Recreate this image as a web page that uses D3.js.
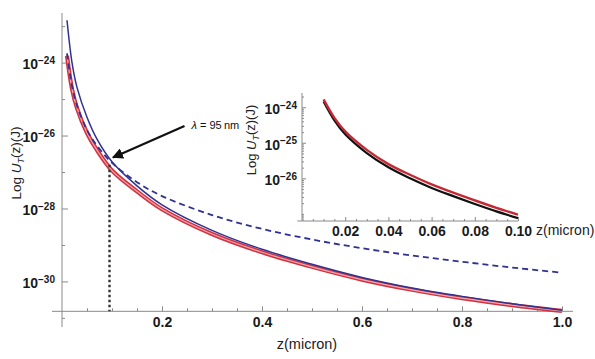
<!DOCTYPE html>
<html>
<head>
<meta charset="utf-8">
<script src="https://cdn.jsdelivr.net/npm/d3@7"></script>
<style>
  body { margin: 0; background: #fff; }
  svg { font-family: "Liberation Sans", Arial, sans-serif; }
  .tick line { stroke: #8a8a8a; }
  .tick text { fill: #1a1a1a; font-weight: bold; font-size: 14px; }
</style>
</head>
<body>
<div id="chart"></div>
<script>
// ---- data (log10 of U_T in J) ----
const zMain      = [0.01, 0.02, 0.03, 0.05, 0.07, 0.1, 0.15, 0.2, 0.3, 0.4, 0.5, 0.6, 0.7, 0.8, 0.9, 1.0];
const redLog     = [-23.81, -24.72, -25.25, -25.93, -26.40, -26.96, -27.53, -28.02, -28.70, -29.20, -29.60, -29.95, -30.23, -30.46, -30.65, -30.81];
const blueLog    = [-22.84, -24.00, -24.68, -25.50, -26.10, -26.72, -27.38, -27.90, -28.60, -29.12, -29.53, -29.89, -30.18, -30.41, -30.61, -30.79];
const dashedLog  = [-23.75, -24.65, -25.18, -25.85, -26.28, -26.75, -27.28, -27.66, -28.18, -28.56, -28.85, -29.09, -29.29, -29.46, -29.62, -29.76];

const zInset     = [0.01, 0.015, 0.02, 0.03, 0.04, 0.05, 0.06, 0.07, 0.08, 0.09, 0.1];
const insetRed   = [-23.78, -24.30, -24.68, -25.20, -25.60, -25.90, -26.17, -26.40, -26.62, -26.83, -27.02];
const insetBlack = [-23.84, -24.37, -24.76, -25.29, -25.69, -26.00, -26.27, -26.50, -26.72, -26.93, -27.12];

const xMajor = [0.2, 0.4, 0.6, 0.8, 1.0];
const xMinor = [0.05, 0.1, 0.15, 0.25, 0.3, 0.35, 0.45, 0.5, 0.55, 0.65, 0.7, 0.75, 0.85, 0.9, 0.95];
const yMajor = [-30, -28, -26, -24];
const yMinor = [-31, -29, -27, -25, -23];

const xInsetMajor = [0.02, 0.04, 0.06, 0.08, 0.1];
const yInsetMajor = [-24, -25, -26];
const yInsetTick  = [-27];

const lambdaZ = 0.095;       // crossing point, 95 nm
const lambdaLog = -26.72;
const arrowFrom = [0.245, -25.74];
const arrowTo   = [0.102, -26.60];

// ---- layout ----
const W = 595, H = 359;

const svg = d3.select("#chart").append("svg")
    .attr("width", W)
    .attr("height", H);

svg.append("defs").append("marker")
    .attr("id", "arr")
    .attr("viewBox", "0 0 10 10")
    .attr("refX", 9).attr("refY", 5)
    .attr("markerWidth", 5).attr("markerHeight", 5)
    .attr("orient", "auto")
  .append("path")
    .attr("d", "M0,0L10,5L0,10z")
    .attr("fill", "#111");

// superscript tick labels like 10^-24
function powLabel(sel) {
  sel.each(function (d) {
    const t = d3.select(this).text(null);
    t.append("tspan").text("10");
    t.append("tspan").attr("dy", "-0.55em").style("font-size", "10px").text("\u2212" + Math.abs(d));
  });
}

function uLabel(sel) {
  sel.append("tspan").text("Log ");
  sel.append("tspan").style("font-style", "italic").text("U");
  sel.append("tspan").attr("dy", "0.3em").style("font-size", "9px").style("font-style", "italic").text("T");
  sel.append("tspan").attr("dy", "-0.3em").text("(z)(J)");
}

// ================= main plot =================
const x = d3.scaleLinear().domain([0, 1]).range([62, 562]);
const y = d3.scaleLinear().domain([-31.25, -22.64]).range([327, 13]);
const xAxisAt = -30.82;

const main = svg.append("g");

// axis lines
main.append("line")
    .attr("x1", x(-0.02)).attr("x2", x(1.022))
    .attr("y1", y(xAxisAt)).attr("y2", y(xAxisAt))
    .attr("stroke", "#8a8a8a");
main.append("line")
    .attr("x1", x(0)).attr("x2", x(0))
    .attr("y1", y.range()[0]).attr("y2", y.range()[1])
    .attr("stroke", "#8a8a8a");

const gx = main.append("g")
    .attr("transform", "translate(0," + y(xAxisAt) + ")")
    .call(d3.axisBottom(x).tickValues(xMajor).tickSizeInner(-5).tickSizeOuter(0).tickPadding(6).tickFormat(d3.format(".1f")));
gx.select(".domain").remove();

const gxm = main.append("g")
    .attr("transform", "translate(0," + y(xAxisAt) + ")")
    .call(d3.axisBottom(x).tickValues(xMinor).tickSizeInner(-3).tickSizeOuter(0).tickFormat(""));
gxm.select(".domain").remove();

const gy = main.append("g")
    .attr("transform", "translate(" + x(0) + ",0)")
    .call(d3.axisLeft(y).tickValues(yMajor).tickSizeInner(-6).tickSizeOuter(0).tickPadding(7));
gy.select(".domain").remove();
gy.selectAll(".tick text").attr("dy", "0.45em").call(powLabel);

const gym = main.append("g")
    .attr("transform", "translate(" + x(0) + ",0)")
    .call(d3.axisLeft(y).tickValues(yMinor).tickSizeInner(-3).tickSizeOuter(0).tickFormat(""));
gym.select(".domain").remove();

// curves
const line = d3.line()
    .x((d, i) => x(zMain[i]))
    .y(d => y(d))
    .curve(d3.curveCatmullRom.alpha(0.5));

main.append("path").attr("d", line(redLog))
    .attr("fill", "none").attr("stroke", "#d2323f").attr("stroke-width", 4.2);
main.append("path").attr("d", line(redLog))
    .attr("fill", "none").attr("stroke", "#f2a6ae").attr("stroke-width", 1.2);

main.append("path").attr("d", line(dashedLog))
    .attr("fill", "none").attr("stroke", "#2f3290").attr("stroke-width", 1.8)
    .attr("stroke-dasharray", "6,4");

main.append("path").attr("d", line(blueLog))
    .attr("fill", "none").attr("stroke", "#2f3290").attr("stroke-width", 1.5);

// dotted marker at lambda
main.append("line")
    .attr("x1", x(lambdaZ)).attr("x2", x(lambdaZ))
    .attr("y1", y(lambdaLog) + 3).attr("y2", y(xAxisAt))
    .attr("stroke", "#333").attr("stroke-width", 2.4)
    .attr("stroke-dasharray", "2.5,2.5");

main.append("line")
    .attr("x1", x(arrowFrom[0])).attr("y1", y(arrowFrom[1]))
    .attr("x2", x(arrowTo[0])).attr("y2", y(arrowTo[1]))
    .attr("stroke", "#111").attr("stroke-width", 2.2)
    .attr("marker-end", "url(#arr)");

const lam = main.append("text")
    .attr("x", x(arrowFrom[0]) + 7)
    .attr("y", y(arrowFrom[1]) + 3)
    .style("font-size", "11px").attr("fill", "#111");
lam.append("tspan").style("font-style", "italic").text("\u03bb");
lam.append("tspan").text(" = 95\u2009nm");

// axis titles
main.append("text")
    .attr("x", 307).attr("y", 349)
    .attr("text-anchor", "middle")
    .style("font-size", "14.5px").attr("fill", "#222")
    .text("z(micron)");

main.append("text")
    .attr("transform", "translate(21,163) rotate(-90)")
    .attr("text-anchor", "middle")
    .style("font-size", "13.5px").attr("fill", "#222")
    .call(uLabel);

// ================= inset =================
const xi = d3.scaleLinear().domain([0, 0.1]).range([302, 518]);
const yi = d3.scaleLinear().domain([-27.2, -23.6]).range([221, 93]);

const ins = svg.append("g");

ins.append("line")
    .attr("x1", xi(-0.0022)).attr("x2", xi(0.1))
    .attr("y1", yi(-27.2)).attr("y2", yi(-27.2))
    .attr("stroke", "#8a8a8a");
ins.append("line")
    .attr("x1", xi(0)).attr("x2", xi(0))
    .attr("y1", yi(-27.2)).attr("y2", yi(-23.6))
    .attr("stroke", "#8a8a8a");

const gxi = ins.append("g")
    .attr("transform", "translate(0," + yi(-27.2) + ")")
    .call(d3.axisBottom(xi).tickValues(xInsetMajor).tickSizeInner(-4).tickSizeOuter(0).tickPadding(5).tickFormat(d3.format(".2f")));
gxi.select(".domain").remove();

const xiMinor = d3.range(1, 20).map(k => k * 0.005).filter(v => Math.round(v * 1000) % 20 !== 0);
const gxim = ins.append("g")
    .attr("transform", "translate(0," + yi(-27.2) + ")")
    .call(d3.axisBottom(xi).tickValues(xiMinor).tickSizeInner(-2).tickSizeOuter(0).tickFormat(""));
gxim.select(".domain").remove();

const gyi = ins.append("g")
    .attr("transform", "translate(" + xi(0) + ",0)")
    .call(d3.axisLeft(yi).tickValues(yInsetMajor).tickSizeInner(-4).tickSizeOuter(0).tickPadding(5));
gyi.select(".domain").remove();
gyi.selectAll(".tick text").attr("dy", "0.45em").call(powLabel);

// log minor ticks inside each decade
const yiMinor = [];
[-28, -27, -26, -25, -24].forEach(dec => {
  d3.range(2, 10).forEach(k => {
    const v = dec + Math.log10(k);
    if (v > -27.2 && v < -23.6) yiMinor.push(v);
  });
});
const gyim = ins.append("g")
    .attr("transform", "translate(" + xi(0) + ",0)")
    .call(d3.axisLeft(yi).tickValues(yiMinor.concat(yInsetTick)).tickSizeInner(-2).tickSizeOuter(0).tickFormat(""));
gyim.select(".domain").remove();

const lineI = d3.line()
    .x((d, i) => xi(zInset[i]))
    .y(d => yi(d))
    .curve(d3.curveCatmullRom.alpha(0.5));

ins.append("path").attr("d", lineI(insetBlack))
    .attr("fill", "none").attr("stroke", "#111").attr("stroke-width", 2.2);
ins.append("path").attr("d", lineI(insetRed))
    .attr("fill", "none").attr("stroke", "#c42a36").attr("stroke-width", 2.4);

ins.append("text")
    .attr("x", 536).attr("y", 235)
    .style("font-size", "14px").attr("fill", "#222")
    .text("z(micron)");

ins.append("text")
    .attr("transform", "translate(256,140) rotate(-90)")
    .attr("text-anchor", "middle")
    .style("font-size", "13px").attr("fill", "#222")
    .call(uLabel);
</script>
</body>
</html>
